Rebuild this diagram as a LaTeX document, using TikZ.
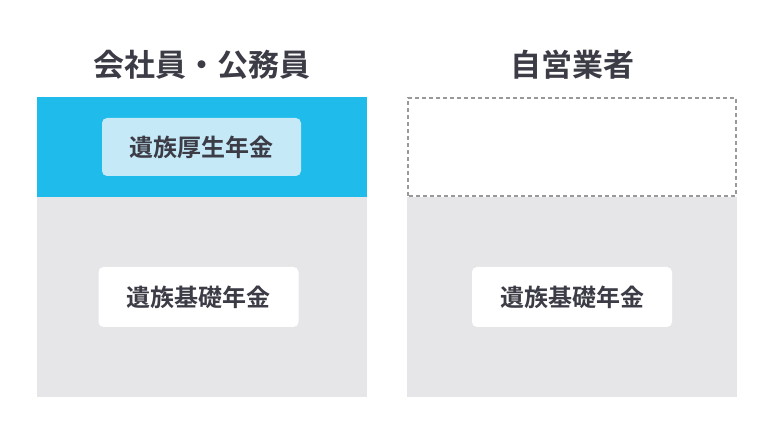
\documentclass[tikz,border=0pt]{standalone}
\usepackage{fontspec}
\newfontfamily\cjk[BoldFont={* Bold}]{Noto Sans CJK JP}
\usetikzlibrary{positioning}
\definecolor{skyblue}{HTML}{1EBBEB}
\definecolor{paleblue}{HTML}{C6E9F8}
\definecolor{panelgray}{HTML}{E6E6E8}
\definecolor{inkgray}{HTML}{3C3C46}
\tikzset{
  title/.style={font=\cjk\bfseries\fontsize{31}{36}\selectfont, text=inkgray},
  pension/.style={rounded corners=5pt, minimum width=200pt, minimum height=60pt,
    font=\cjk\bfseries\fontsize{24}{28}\selectfont, text=inkgray}
}
\begin{document}
\begin{tikzpicture}[x=1pt,y=1pt]
\useasboundingbox (0,0) rectangle (780,436);

% left column
\fill[panelgray] (37,39) rectangle (367,239);
\fill[skyblue] (37,239) rectangle (367,339);
\node[title] (emp) at (202,371) {会社員・公務員};
\node[pension, fill=paleblue, minimum width=199pt, minimum height=58pt] (kosei) at (201.5,289) {遺族厚生年金};
\node[pension, fill=white] (kisoL) at (198.5,139) {遺族基礎年金};

% right column
\fill[panelgray] (407,39) rectangle (737,239);
\draw[gray!80, line width=2.5pt, dash pattern=on 4pt off 3pt] (408,240) rectangle (736,338);
\node[title] (self) at (572,371) {自営業者};
\node[pension, fill=white] (kisoR) at (572,139) {遺族基礎年金};
\end{tikzpicture}
\end{document}
